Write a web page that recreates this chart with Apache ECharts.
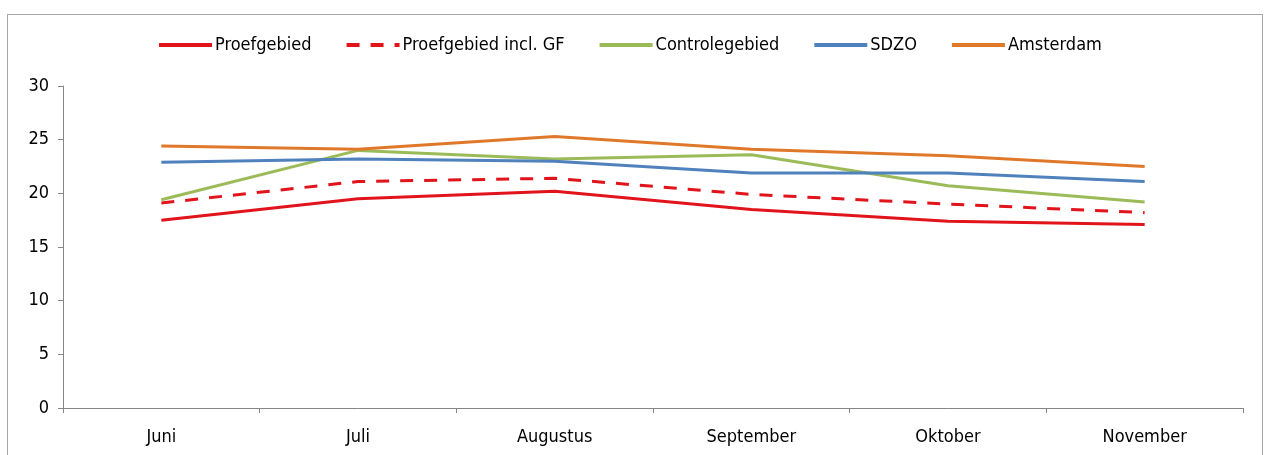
<!DOCTYPE html>
<html>
<head>
<meta charset="utf-8">
<script src="https://cdn.jsdelivr.net/npm/echarts@6/dist/echarts.min.js"></script>
<style>
  html, body { margin: 0; padding: 0; background: #fff; }
  #chart { position: absolute; left: 0; top: 0; width: 1264px; height: 455px; }
  #frame { position: absolute; left: 7px; top: 14px; width: 1254px; height: 470px; border: 1px solid #a6a6a6; pointer-events: none; }
</style>
</head>
<body>
<div id="chart"></div>
<div id="frame"></div>
<script>
// maanden
var months = ["Juni", "Juli", "Augustus", "September", "Oktober", "November"];
// waarden per gebied
var proefgebied = [17.5, 19.5, 20.2, 18.5, 17.4, 17.1];
var proefgebiedGF = [19.1, 21.1, 21.4, 19.9, 19.0, 18.2];
var controlegebied = [19.4, 24.0, 23.2, 23.6, 20.7, 19.2];
var sdzo = [22.9, 23.2, 23.0, 21.9, 21.9, 21.1];
var amsterdam = [24.4, 24.1, 25.3, 24.1, 23.5, 22.5];
var yTicks = [0, 5, 10, 15, 20, 25, 30];

var font = "'Liberation Sans Narrow', 'DejaVu Sans Condensed', 'Liberation Sans', sans-serif";

function lineSeries(name, data, color, dashed) {
  return {
    name: name,
    type: "line",
    data: data,
    symbol: "none",
    smooth: false,
    lineStyle: {
      color: color,
      width: 3,
      type: dashed ? [13, 11] : "solid"
    },
    itemStyle: { color: color }
  };
}

var chart = echarts.init(document.getElementById("chart"));
chart.setOption({
  animation: false,
  legend: {
    top: 31,
    left: 152,
    itemWidth: 53,
    itemHeight: 14,
    itemGap: 33,
    itemStyle: { opacity: 0 },
    lineStyle: { width: 4 },
    textStyle: { fontFamily: font, fontSize: 18, color: "#000", padding: [0, 0, 0, -2] },
    data: ["Proefgebied", "Proefgebied incl. GF", "Controlegebied", "SDZO", "Amsterdam"]
  },
  grid: { left: 63, right: 21, top: 86, bottom: 47 },
  xAxis: {
    type: "category",
    data: months,
    boundaryGap: true,
    axisLine: { lineStyle: { color: "#868686", width: 1 } },
    axisTick: { show: true, length: 5, lineStyle: { color: "#868686" } },
    axisLabel: { fontFamily: font, fontSize: 18, color: "#000", margin: 20 }
  },
  yAxis: {
    type: "value",
    min: yTicks[0],
    max: yTicks[yTicks.length - 1],
    interval: 5,
    axisLine: { show: true, lineStyle: { color: "#868686", width: 1 } },
    axisTick: { show: true, length: 5, lineStyle: { color: "#868686" } },
    splitLine: { show: false },
    axisLabel: { fontFamily: font, fontSize: 18, color: "#000", margin: 14 }
  },
  series: [
    lineSeries("Proefgebied", proefgebied, "#E2141B", false),
    lineSeries("Proefgebied incl. GF", proefgebiedGF, "#E2141B", true),
    lineSeries("Controlegebied", controlegebied, "#9BBB59", false),
    lineSeries("SDZO", sdzo, "#4F81BD", false),
    lineSeries("Amsterdam", amsterdam, "#E0782A", false)
  ]
});
</script>
</body>
</html>
